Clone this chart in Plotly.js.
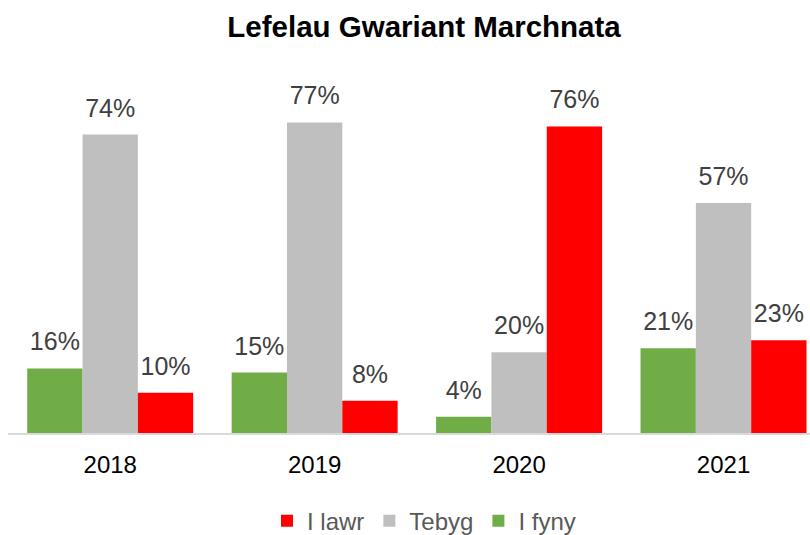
<!DOCTYPE html>
<html>
<head>
<meta charset="utf-8">
<script src="https://cdn.plot.ly/plotly-3.0.1.min.js"></script>
<style>html,body{margin:0;padding:0;background:#fff;}#chart{width:810px;height:535px;}</style>
</head>
<body>
<div id="chart"></div>
<script>
const years = ['2018', '2019', '2020', '2021'];
const iFyny = [16, 15, 4, 21];
const tebyg = [74, 77, 20, 57];
const iLawr = [10, 8, 76, 23];
const seriesNames = ['I fyny', 'Tebyg', 'I lawr'];
const seriesColors = ['#70AD47', '#BFBFBF', '#FF0000'];
const seriesValues = [iFyny, tebyg, iLawr];

const FONT = 'Liberation Sans, Arial, sans-serif';
const label = "<span style='font-size:25px'>%{y}%</span><br>&nbsp;";

const traces = seriesValues.map((vals, i) => ({
  type: 'bar',
  name: seriesNames[i],
  x: years,
  y: vals,
  marker: {color: seriesColors[i], line: {width: 0}},
  texttemplate: label,
  textposition: 'outside',
  constraintext: 'none',
  cliponaxis: false,
  textfont: {family: FONT, size: 10, color: '#404040'},
  hoverinfo: 'skip'
}));

const layout = {
  width: 810,
  height: 535,
  margin: {l: 8, r: 0, t: 70, b: 102},
  paper_bgcolor: '#ffffff',
  plot_bgcolor: '#ffffff',
  barmode: 'group',
  bargap: 0.188,
  bargroupgap: 0,
  title: {
    text: '<b>Lefelau Gwariant Marchnata</b>',
    font: {family: FONT, size: 29.5, color: '#000000'},
    x: 0.5235, xref: 'container', xanchor: 'center',
    y: 0.951, yref: 'container', yanchor: 'middle'
  },
  xaxis: {
    type: 'category',
    range: [-0.5, 3.423],
    showline: true,
    linecolor: '#D9D9D9',
    linewidth: 2,
    ticks: '',
    ticklabelstandoff: 9,
    showgrid: false,
    zeroline: false,
    tickfont: {family: FONT, size: 24, color: '#000000'},
    fixedrange: true
  },
  yaxis: {
    range: [0, 90],
    visible: false,
    showgrid: false,
    zeroline: false,
    fixedrange: true
  },
  showlegend: true,
  legend: {
    orientation: 'h',
    traceorder: 'reversed',
    x: 0.5187, xanchor: 'center',
    y: 0.026, yref: 'container', yanchor: 'middle',
    font: {family: FONT, size: 24, color: '#595959'},
    bgcolor: 'rgba(0,0,0,0)'
  }
};

Plotly.newPlot('chart', traces, layout, {displayModeBar: false, staticPlot: true});
</script>
</body>
</html>
